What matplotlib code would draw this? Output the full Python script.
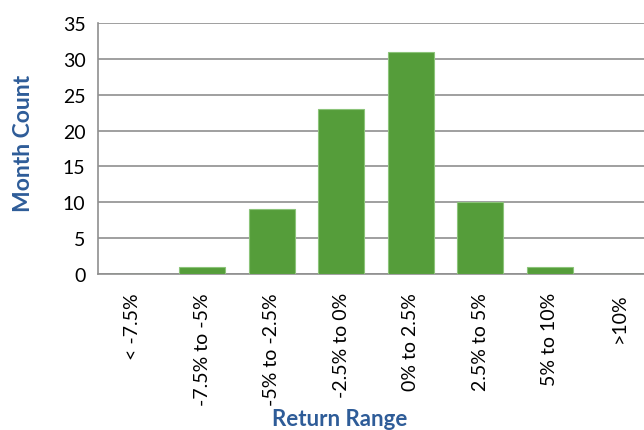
import numpy as np
import matplotlib.pyplot as plt

# return buckets and how many months fell in each
categories = ['< -7.5%', '-7.5% to -5%', '-5% to -2.5%', '-2.5% to 0%',
              '0% to 2.5%', '2.5% to 5%', '5% to 10%', '>10%']
month_counts = [0, 1, 9, 23, 31, 10, 1, 0]
y_ticks = [0, 5, 10, 15, 20, 25, 30, 35]

plt.rcParams['font.family'] = ['Lato', 'DejaVu Sans']

fig = plt.figure(figsize=(6.44, 4.31), dpi=100)
ax = fig.add_axes([98/644, 1 - 275/431, 556/644, 251/431])

x = np.arange(len(categories))
ax.bar(x, month_counts, width=0.66, color='#559D3A', edgecolor='#8CC47A', linewidth=0.8, zorder=3)

ax.set_xlim(-0.5, len(categories) - 0.5)
ax.set_ylim(0, 35)
ax.set_yticks(y_ticks)
ax.set_xticks(x)
ax.set_xticklabels(categories, rotation=90, va='top', ha='center')
ax.tick_params(axis='both', length=0, labelsize=14, colors='black')
ax.tick_params(axis='x', pad=13)
ax.tick_params(axis='y', pad=9)

ax.yaxis.grid(True, color='#8f8f8f', linewidth=1.2, zorder=0)
for side in ['top', 'right']:
    ax.spines[side].set_visible(False)
ax.spines['left'].set_color('#8f8f8f')
ax.spines['bottom'].set_color('#8f8f8f')
ax.spines['left'].set_linewidth(1.2)
ax.spines['bottom'].set_linewidth(1.2)

fig.text(24/644, 1 - 143/431, 'Month Count', rotation=90, ha='center', va='center',
         fontsize=16.5, fontweight='bold', color='#2E5C98')
fig.text(340/644, 1/431, 'Return Range', ha='center', va='bottom',
         fontsize=16, fontweight='bold', color='#2E5C98')

fig.savefig('out.png', dpi=100)
